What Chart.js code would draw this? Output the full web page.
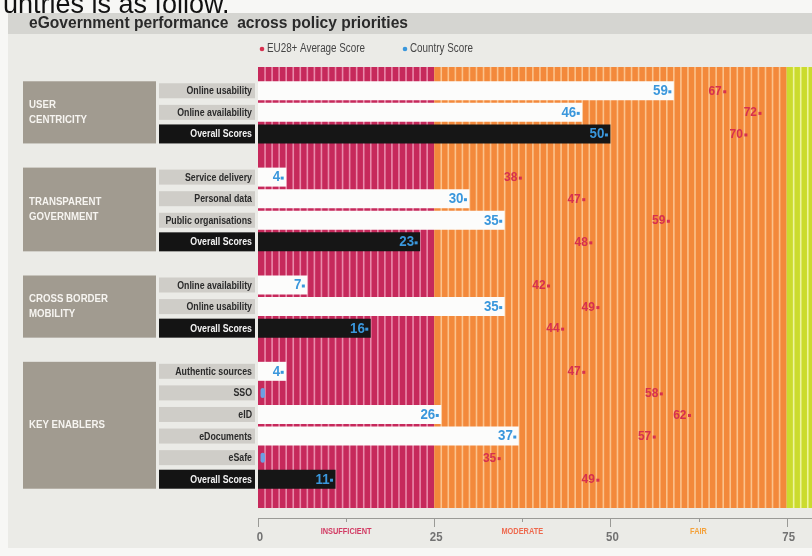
<!DOCTYPE html>
<html>
<head>
<meta charset="utf-8">
<script src="https://cdn.jsdelivr.net/npm/chart.js@4/dist/chart.umd.min.js"></script>
<style>
  html, body { margin: 0; padding: 0; background: #f6f6f4; overflow: hidden; }
  #chart-canvas { display: block; }
</style>
</head>
<body>
<canvas id="chart-canvas" width="812" height="556"></canvas>
<script>
// ---- data ----
const groupLines = [['USER', 'CENTRICITY'], ['TRANSPARENT', 'GOVERNMENT'], ['CROSS BORDER', 'MOBILITY'], ['KEY ENABLERS']];
const rowLabels = [
  ['Online usability', 'Online availability', 'Overall Scores'],
  ['Service delivery', 'Personal data', 'Public organisations', 'Overall Scores'],
  ['Online availability', 'Online usability', 'Overall Scores'],
  ['Authentic sources', 'SSO', 'eID', 'eDocuments', 'eSafe', 'Overall Scores']
];
const countryScore = [[59, 46, 50], [4, 30, 35, 23], [7, 35, 16], [4, 0, 26, 37, 0, 11]];
const euAverage = [[67, 72, 70], [38, 47, 59, 48], [42, 49, 44], [47, 58, 62, 57, 35, 49]];
const tickValues = [0, 25, 50, 75];
const zoneNames = ['INSUFFICIENT', 'MODERATE', 'FAIR'];
const zoneEdges = [0, 25, 75, 100];
const legendNames = ['EU28+ Average Score', 'Country Score'];

// flatten, with an empty slot between groups
const labels = [], country = [], eu = [];
rowLabels.forEach((rows, g) => {
  if (g > 0) { labels.push(''); country.push(null); eu.push(null); }
  rows.forEach((r, k) => {
    labels.push(r);
    country.push(countryScore[g][k]);
    eu.push(euAverage[g][k]);
  });
});

const zoneColors = ['#c6295b', '#f3893b', '#cbdb2e'];
const stripeColors = ['#e98bab', '#fbc38d', '#eef49e'];
const zoneTextColors = ['#d23a63', '#ee6a4f', '#f4a13a'];
const blue = '#3a97dc';
const red = '#d6304f';
const FONT = '"Liberation Sans", Arial, sans-serif';

function txt(ctx, s, x, y, font, color, align, sx) {
  ctx.save();
  ctx.translate(x, y);
  ctx.scale(sx || 1, 1);
  ctx.font = font;
  ctx.fillStyle = color;
  ctx.textAlign = align || 'left';
  ctx.textBaseline = 'middle';
  ctx.fillText(s, 0, 0);
  ctx.restore();
}

const backdrop = {
  id: 'backdrop',
  beforeDraw(chart) {
    const { ctx, chartArea: a, scales: { x, y } } = chart;
    ctx.save();
    // paper
    ctx.fillStyle = '#f7f7f5';
    ctx.fillRect(0, 0, 812, 556);
    ctx.fillStyle = '#ebebe7';
    ctx.fillRect(8, 13, 804, 535);
    ctx.fillStyle = '#d5d5d1';
    ctx.fillRect(8, 13, 804, 21);

    // cut-off text from the page above
    ctx.font = '27px ' + FONT;
    ctx.fillStyle = '#111';
    ctx.textBaseline = 'alphabetic';
    ctx.fillText('untries is as follow.', 3, 13);
    // title
    ctx.font = 'bold 17px ' + FONT;
    ctx.fillStyle = '#2a2a2a';
    ctx.fillText('eGovernment performance  across policy priorities', 29, 28, 379);

    // legend
    ctx.fillStyle = red;
    ctx.beginPath(); ctx.arc(262, 49, 2.3, 0, Math.PI * 2); ctx.fill();
    txt(ctx, legendNames[0], 267, 49, '12px ' + FONT, '#454545', 'left', 0.82);
    ctx.fillStyle = blue;
    ctx.beginPath(); ctx.arc(405, 49, 2.3, 0, Math.PI * 2); ctx.fill();
    txt(ctx, legendNames[1], 410, 49, '12px ' + FONT, '#454545', 'left', 0.82);

    // coloured zones with stripes
    const top = a.top - 13, bot = a.bottom + 18;
    for (let z = 0; z < 3; z++) {
      const x0 = x.getPixelForValue(zoneEdges[z]);
      const x1 = Math.min(x.getPixelForValue(zoneEdges[z + 1]), 812);
      ctx.fillStyle = zoneColors[z];
      ctx.fillRect(x0, top, x1 - x0, bot - top);
      ctx.fillStyle = stripeColors[z];
      for (let v = zoneEdges[z] + 1; v < zoneEdges[z + 1]; v++) {
        const px = x.getPixelForValue(v);
        if (px > 812) break;
        ctx.fillRect(px - 0.8, top, 1.6, bot - top);
      }
    }

    // group boxes and row labels
    let idx = 0;
    rowLabels.forEach((rows, g) => {
      if (g > 0) idx++;
      const y0 = y.getPixelForValue(idx) - 9.5;
      const y1 = y.getPixelForValue(idx + rows.length - 1) + 9.5;
      ctx.fillStyle = '#a19b90';
      ctx.fillRect(23, y0, 133, y1 - y0);
      const cy = (y0 + y1) / 2;
      const lines = groupLines[g];
      lines.forEach((l, j) => {
        const ly = cy + (j - (lines.length - 1) / 2) * 15.5;
        txt(ctx, l, 29, ly, 'bold 11px ' + FONT, '#f6f4f0', 'left', 0.88);
      });
      rows.forEach((r, k) => {
        const ry = y.getPixelForValue(idx + k);
        const overall = r === 'Overall Scores';
        const h = overall ? 19 : 15;
        ctx.fillStyle = overall ? '#141414' : '#cfcdc8';
        ctx.fillRect(159, ry - h / 2, 96, h);
        txt(ctx, r, 252, ry + 0.5, 'bold 11px ' + FONT, overall ? '#f2f2f2' : '#2b2b2b', 'right', 0.8);
      });
      idx += rows.length;
    });

    // bottom axis
    const ay = 518;
    ctx.strokeStyle = '#9a9a96';
    ctx.lineWidth = 1;
    ctx.beginPath(); ctx.moveTo(x.getPixelForValue(0), ay + 0.5); ctx.lineTo(812, ay + 0.5); ctx.stroke();
    for (let v = 0; v <= 75; v += 12.5) {
      const px = Math.round(x.getPixelForValue(v)) + 0.5;
      ctx.beginPath(); ctx.moveTo(px, ay); ctx.lineTo(px, ay + (v % 25 === 0 ? 9 : 4)); ctx.stroke();
    }
    tickValues.forEach(v => {
      txt(ctx, String(v), x.getPixelForValue(v) + 2, 538, 'bold 12px ' + FONT, '#727272', 'center', 0.95);
    });
    zoneNames.forEach((n, z) => {
      const c = (zoneEdges[z] + Math.min(zoneEdges[z + 1], 75)) / 2;
      const mid = z === 1 ? 37.5 : (z === 2 ? 62.5 : c);
      txt(ctx, n, x.getPixelForValue(mid), 532, 'bold 9px ' + FONT, zoneTextColors[z], 'center', 0.82);
    });
    ctx.restore();
  },
  afterDatasetsDraw(chart) {
    const { ctx, scales: { x } } = chart;
    const bars = chart.getDatasetMeta(0).data;
    const pts = chart.getDatasetMeta(1).data;
    ctx.save();
    labels.forEach((l, i) => {
      if (country[i] === null) return;
      const b = bars[i];
      if (country[i] === 0) {
        ctx.fillStyle = '#6d9fe2';
        ctx.beginPath();
        ctx.roundRect(x.getPixelForValue(0) + 2.5, b.y - 5, 4.5, 10, 2.2);
        ctx.fill();
      } else {
        txt(ctx, String(country[i]), b.x - 6, b.y + 0.5, 'bold 14px ' + FONT, blue, 'right', 0.95);
        ctx.fillStyle = blue;
        ctx.fillRect(b.x - 5.5, b.y - 0.5, 3, 3);
      }
      const p = pts[i];
      txt(ctx, String(eu[i]), p.x - 8.5, p.y + 0.5, 'bold 13px ' + FONT, red, 'right', 0.92);
      ctx.fillStyle = red;
      ctx.fillRect(p.x - 7, p.y - 0.5, 3, 3);
    });
    ctx.restore();
  }
};

const chartCtx = document.getElementById('chart-canvas');

const scoreChart = new Chart(chartCtx, {
  type: 'bar',
  data: {
    labels: labels,
    datasets: [
      {
        label: legendNames[1],
        data: country,
        indexAxis: 'y',
        backgroundColor: (c) => labels[c.dataIndex] === 'Overall Scores' ? '#161616' : '#fcfcfb',
        borderWidth: 0,
        barPercentage: 0.88,
        categoryPercentage: 1
      },
      {
        type: 'line',
        label: legendNames[0],
        data: eu,
        indexAxis: 'y',
        showLine: false,
        pointRadius: 0,
        borderColor: red,
        backgroundColor: red
      }
    ]
  },
  options: {
    indexAxis: 'y',
    responsive: false,
    animation: false,
    layout: { padding: { left: 258, right: 0, top: 80, bottom: 66 } },
    scales: {
      x: { type: 'linear', min: 0, max: 78.6, display: false },
      y: { type: 'category', display: false }
    },
    plugins: {
      legend: { display: false },
      tooltip: { enabled: false }
    }
  },
  plugins: [backdrop]
});
</script>
</body>
</html>
